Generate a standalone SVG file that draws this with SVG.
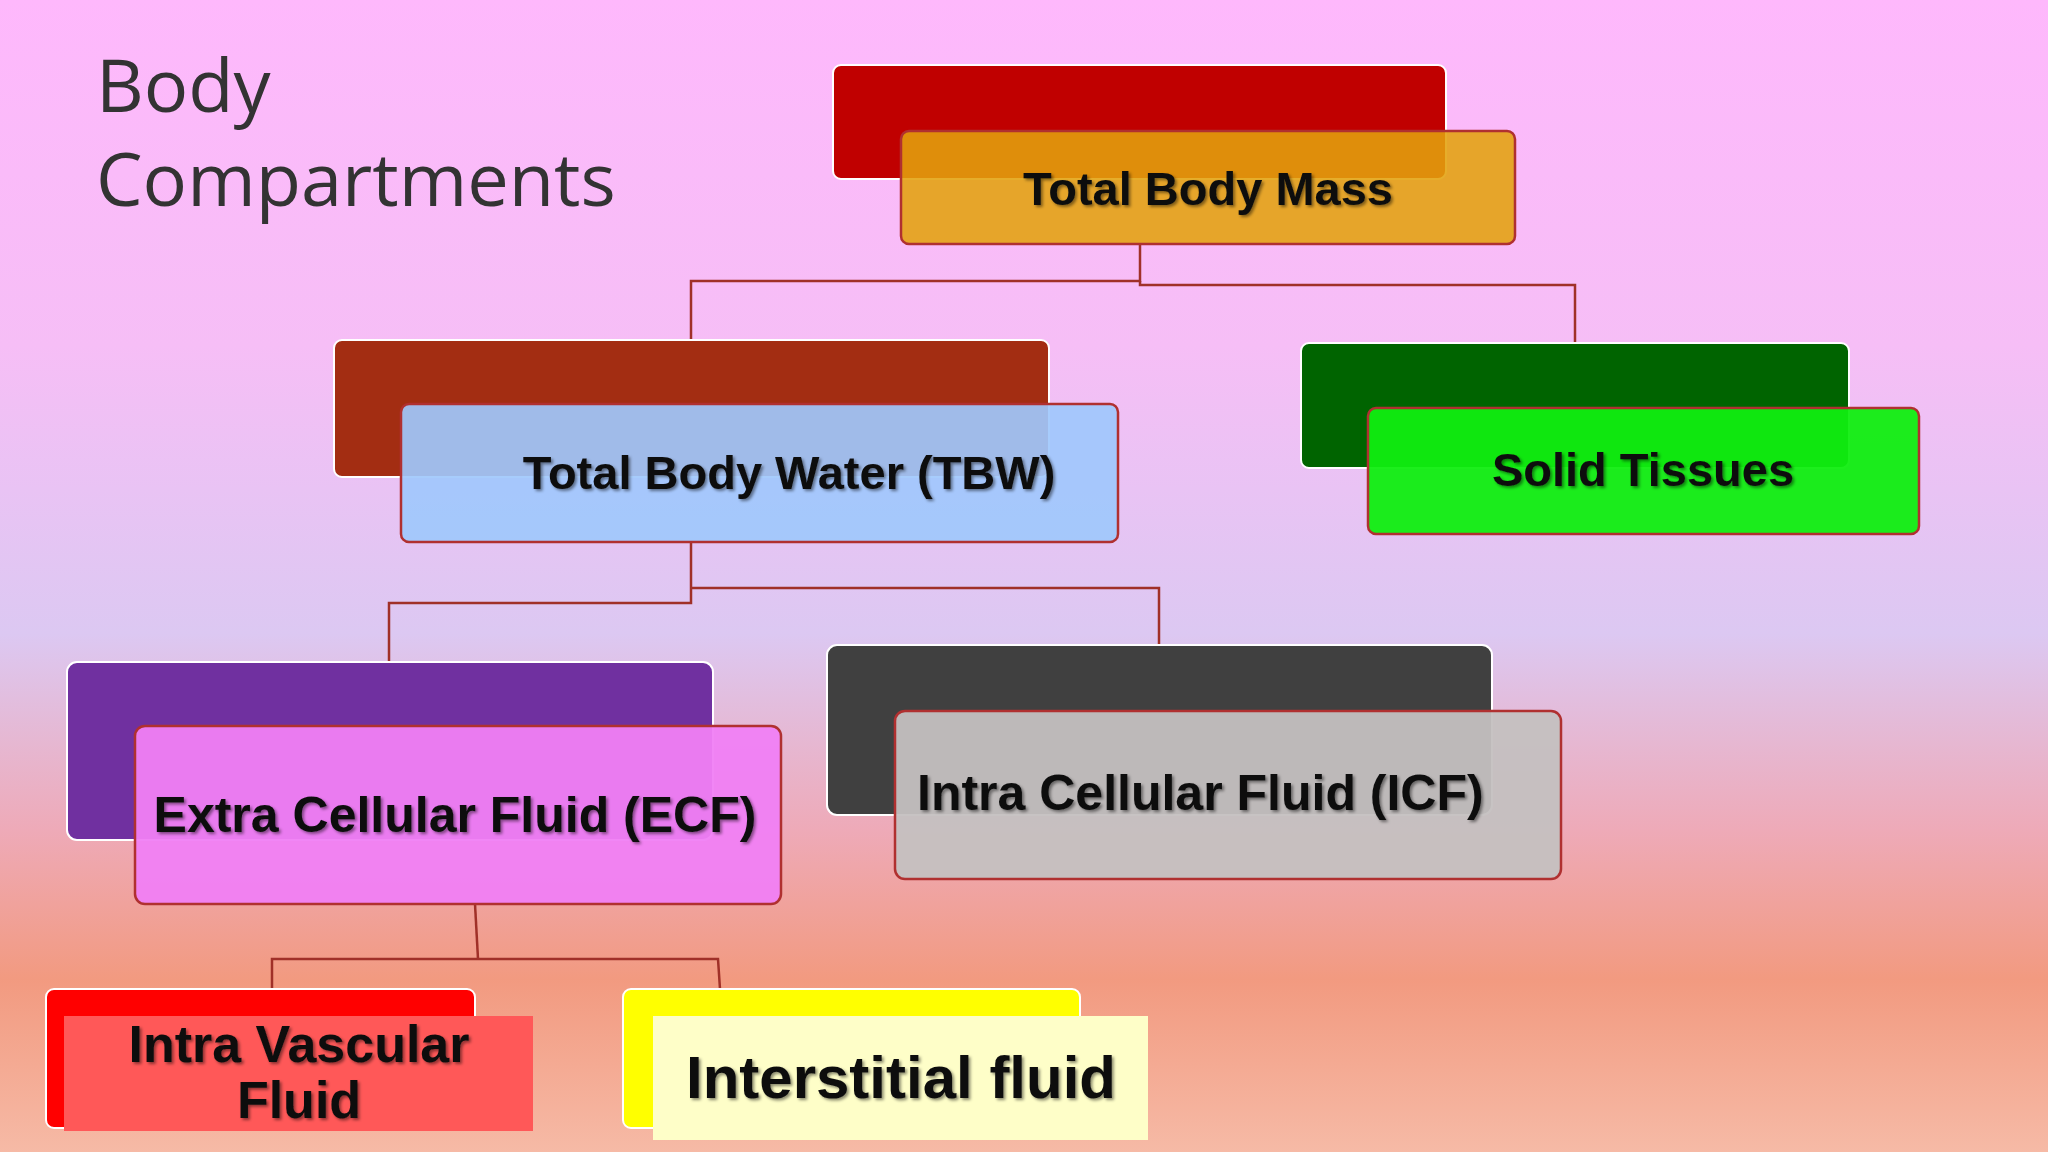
<svg xmlns="http://www.w3.org/2000/svg" width="2048" height="1152" viewBox="0 0 2048 1152">
<defs>
<linearGradient id="bg" x1="0" y1="0" x2="0" y2="1">
<stop offset="0" stop-color="#feb8fc"/>
<stop offset="0.3" stop-color="#f6bef6"/>
<stop offset="0.55" stop-color="#dcc8f2"/>
<stop offset="0.72" stop-color="#eeaab8"/>
<stop offset="0.85" stop-color="#f29a80"/>
<stop offset="1" stop-color="#f6baa6"/>
</linearGradient>
<filter id="sh" x="-10%" y="-30%" width="120%" height="160%">
<feDropShadow dx="2" dy="2" stdDeviation="1.5" flood-color="#000" flood-opacity="0.45"/>
</filter>
</defs>
<style>
.back{stroke:#ffffff;stroke-width:2}
.front{stroke:#b03030;stroke-width:2.5}
.lbl{font-family:"Liberation Sans",Arial,sans-serif;font-weight:bold;fill:#111;filter:url(#sh)}
.con{fill:none;stroke:#a03028;stroke-width:2.5}
</style>
<rect width="2048" height="1152" fill="url(#bg)"/>
<g id="title" font-family="'Open Sans',sans-serif" font-size="74" fill="#333">
<text x="96" y="112">Body</text>
<text x="96" y="206">Compartments</text>
</g>
<g id="connectors" class="con">
<polyline class="con" points="1140,244 1140,281 691,281 691,340"/>
<polyline class="con" points="1140,281 1140,285 1575,285 1575,342"/>
<polyline class="con" points="691,542 691,603 389,603 389,662"/>
<polyline class="con" points="691,588 1159,588 1159,644"/>
<polyline class="con" points="475,904 478,959"/>
<polyline class="con" points="272,989 272,959 718,959 720,989"/>
</g>
<g id="n-tbm">
<rect class="back" x="833" y="65" width="613" height="114" rx="8" fill="#c00000"/>
<rect class="front" x="901" y="131" width="614" height="113" rx="8" fill="#e3a20c" fill-opacity="0.88"/>
<text class="lbl" x="1208" y="205" font-size="47" text-anchor="middle">Total Body Mass</text>
</g>
<g id="n-tbw">
<rect class="back" x="334" y="340" width="715" height="137" rx="8" fill="#a32d12"/>
<rect class="front" x="401" y="404" width="717" height="138" rx="8" fill="#a0c8fc" fill-opacity="0.92"/>
<text class="lbl" x="789" y="489" font-size="47" text-anchor="middle">Total Body Water (TBW)</text>
</g>
<g id="n-solid">
<rect class="back" x="1301" y="343" width="548" height="125" rx="8" fill="#006400"/>
<rect class="front" x="1368" y="408" width="551" height="126" rx="8" fill="#10ee10" fill-opacity="0.95"/>
<text class="lbl" x="1643" y="486" font-size="47" text-anchor="middle">Solid Tissues</text>
</g>
<g id="n-ecf">
<rect class="back" x="67" y="662" width="646" height="178" rx="10" fill="#7030a0"/>
<rect class="front" x="135" y="726" width="646" height="178" rx="10" fill="#f080f4" fill-opacity="0.95"/>
<text class="lbl" x="455" y="832" font-size="50" text-anchor="middle">Extra Cellular Fluid (ECF)</text>
</g>
<g id="n-icf">
<rect class="back" x="827" y="645" width="665" height="170" rx="10" fill="#404040"/>
<rect class="front" x="895" y="711" width="666" height="168" rx="10" fill="#c4c0c0" fill-opacity="0.95"/>
<text class="lbl" x="917" y="810" font-size="50">Intra Cellular Fluid (ICF)</text>
</g>
<g id="n-ivf">
<rect class="back" x="46" y="989" width="429" height="139" rx="8" fill="#ff0000"/>
<rect x="64" y="1016" width="469" height="115" fill="#ff5858"/>
<text class="lbl" x="299" y="1062" font-size="52" text-anchor="middle">Intra Vascular</text>
<text class="lbl" x="299" y="1118" font-size="52" text-anchor="middle">Fluid</text>
</g>
<g id="n-isf">
<rect class="back" x="623" y="989" width="457" height="139" rx="8" fill="#ffff00"/>
<rect x="653" y="1016" width="495" height="124" fill="#fefec8"/>
<text class="lbl" x="901" y="1098" font-size="60" text-anchor="middle">Interstitial fluid</text>
</g>
</svg>
